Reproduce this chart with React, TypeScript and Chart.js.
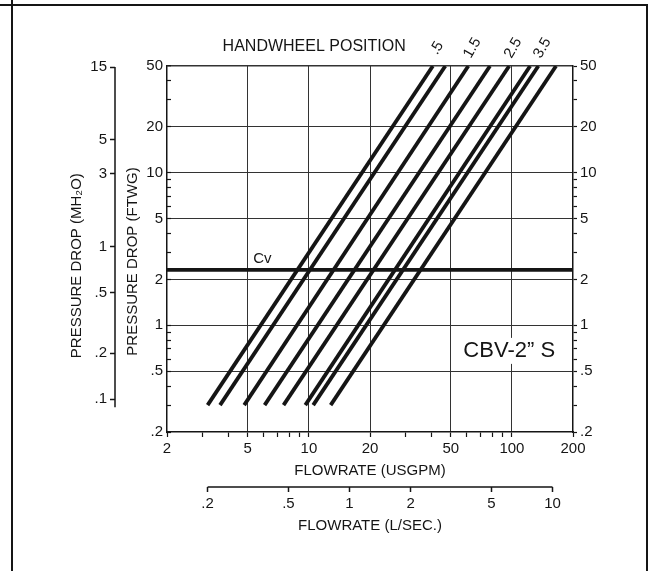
import { useEffect, useRef } from 'react';
import { Chart, registerables } from 'chart.js';

Chart.register(...registerables);

// ---- data ----
const handwheelPositions = ['.5', '1', '1.5', '2', '2.5', '3', '3.5', '4'];
const lowDrop = 0.3; // FTWG where each curve starts
const highDrop = 50; // FTWG where each curve ends
const flowAtLowDrop = [3.17, 3.65, 4.8, 6.05, 7.5, 9.6, 10.5, 12.8]; // USGPM
const flowAtHighDrop = [40.8, 47, 61, 78, 97, 123, 135, 165]; // USGPM
const labeledPositions = ['.5', '1.5', '2.5', '3.5'];
const cvDrop = 2.31; // FTWG (1 psi)

const usgpmTicks = [2, 3, 4, 5, 6, 7, 8, 9, 10, 20, 30, 40, 50, 60, 70, 80, 90, 100, 200];
const usgpmLabels = [2, 5, 10, 20, 50, 100, 200];
const usgpmGrid = [5, 10, 20, 50, 100];
const ftwgTicks = [0.2, 0.3, 0.4, 0.5, 0.6, 0.7, 0.8, 0.9, 1, 2, 3, 4, 5, 6, 7, 8, 9, 10, 20, 30, 40, 50];
const ftwgLabels = [0.2, 0.5, 1, 2, 5, 10, 20, 50];
const ftwgGrid = [0.5, 1, 2, 5, 10, 20, 50];
const mh2oTicks = [0.1, 0.2, 0.5, 1, 3, 5, 15];
const lpsTicks = [0.2, 0.5, 1, 2, 5, 10];

const FT_PER_M = 3.2808;
const USGPM_PER_LPS = 15.85;
const X_MIN = 2, X_MAX = 200, Y_MIN = 0.2, Y_MAX = 50;

const FAMILY = "'Liberation Sans', Arial, sans-serif";
const INK = '#151515';

const has = (arr: number[], v: number) => arr.some((a) => Math.abs(a - v) / a < 1e-6);
const fmt = (v: number) => (v < 1 ? String(v).replace(/^0/, '') : String(v));

const annotations = {
  id: 'annotations',
  beforeDraw(chart: any) {
    const { ctx, width, height } = chart;
    ctx.save();
    ctx.fillStyle = '#ffffff';
    ctx.fillRect(0, 0, width, height);
    ctx.strokeStyle = INK;
    ctx.lineWidth = 2;
    ctx.beginPath();
    ctx.moveTo(0, 5);
    ctx.lineTo(648, 5);
    ctx.moveTo(12, 0);
    ctx.lineTo(12, height);
    ctx.moveTo(647, 4);
    ctx.lineTo(647, height);
    ctx.stroke();
    ctx.restore();
  },
  afterDraw(chart: any) {
    const { ctx } = chart;
    const xs = chart.scales.x;
    const ys = chart.scales.y;
    const ym = chart.scales.yM;
    const x2 = chart.scales.x2;
    ctx.save();
    ctx.strokeStyle = INK;
    ctx.lineWidth = 1.5;
    ctx.beginPath();
    ctx.moveTo(ym.right, ym.getPixelForValue(mh2oTicks[mh2oTicks.length - 1]));
    ctx.lineTo(ym.right, ym.getPixelForValue(mh2oTicks[0]) + 8);
    ctx.moveTo(x2.getPixelForValue(lpsTicks[0]), x2.top);
    ctx.lineTo(x2.getPixelForValue(lpsTicks[lpsTicks.length - 1]), x2.top);
    ctx.stroke();

    ctx.fillStyle = INK;
    // Cv label
    ctx.font = `15px ${FAMILY}`;
    ctx.textAlign = 'center';
    ctx.textBaseline = 'bottom';
    ctx.fillText('Cv', xs.getPixelForValue(5.9), ys.getPixelForValue(cvDrop) - 3);

    // model label on a white patch
    ctx.font = `22px ${FAMILY}`;
    ctx.textBaseline = 'middle';
    const model = 'CBV-2\u201D S';
    const mx = xs.getPixelForValue(97);
    const my = ys.getPixelForValue(0.68);
    const mw = ctx.measureText(model).width;
    ctx.fillStyle = '#ffffff';
    ctx.fillRect(mx - mw / 2 - 4, my - 13, mw + 8, 26);
    ctx.fillStyle = INK;
    ctx.fillText(model, mx, my);

    // handwheel title
    ctx.font = `16px ${FAMILY}`;
    ctx.textAlign = 'right';
    ctx.fillText('HANDWHEEL POSITION', xs.getPixelForValue(30), chart.chartArea.top - 19);

    // handwheel position labels
    ctx.font = `15px ${FAMILY}`;
    ctx.textAlign = 'center';
    labeledPositions.forEach((lab) => {
      const i = handwheelPositions.indexOf(lab);
      const px = xs.getPixelForValue(flowAtHighDrop[i]) + 4;
      const py = ys.getPixelForValue(highDrop) - 18;
      ctx.save();
      ctx.translate(px, py);
      ctx.rotate(-Math.PI / 3);
      ctx.fillText(lab, 0, 0);
      ctx.restore();
    });
    ctx.restore();
  },
};

export default function App() {
  const ref = useRef<HTMLCanvasElement | null>(null);

  useEffect(() => {
    document.body.style.margin = '0';
    const canvas = ref.current;
    if (!canvas) return;

    const lineDatasets = handwheelPositions.map((pos, i) => ({
      label: `Position ${pos}`,
      data: [
        { x: flowAtLowDrop[i], y: lowDrop },
        { x: flowAtHighDrop[i], y: highDrop },
      ],
      showLine: true,
      borderColor: INK,
      borderWidth: 3.8,
      pointRadius: 0,
      xAxisID: 'x',
      yAxisID: 'y',
    }));

    const cvDataset = {
      label: 'Cv',
      data: [
        { x: X_MIN, y: cvDrop },
        { x: X_MAX, y: cvDrop },
      ],
      showLine: true,
      borderColor: INK,
      borderWidth: 3.8,
      pointRadius: 0,
      xAxisID: 'x',
      yAxisID: 'y',
    };

    const tickFont = { size: 15, family: FAMILY };
    const titleFont = { size: 15, family: FAMILY };

    const chart = new Chart(canvas, {
      type: 'scatter',
      data: { datasets: [...lineDatasets, cvDataset] as any },
      plugins: [annotations],
      options: {
        animation: false,
        responsive: false,
        devicePixelRatio: 1,
        events: [],
        layout: { padding: { left: 55, right: 41, top: 66, bottom: 26 } },
        plugins: { legend: { display: false }, tooltip: { enabled: false } },
        scales: {
          x: {
            type: 'logarithmic',
            position: 'bottom',
            weight: 0,
            min: X_MIN,
            max: X_MAX,
            afterBuildTicks: (s: any) => {
              s.ticks = usgpmTicks.map((v) => ({ value: v }));
            },
            afterFit: (s: any) => {
              s.height = 55;
            },
            ticks: {
              autoSkip: false,
              maxRotation: 0,
              minRotation: 0,
              padding: 3,
              color: INK,
              font: tickFont,
              callback: (v: any) => (has(usgpmLabels, Number(v)) ? fmt(Number(v)) : ''),
            },
            grid: {
              drawOnChartArea: true,
              color: (c: any) => (c.tick && has(usgpmGrid, c.tick.value) ? '#333' : 'rgba(0,0,0,0)'),
              lineWidth: 1,
              tickLength: 5,
              tickColor: INK,
              tickWidth: 1.2,
            },
            border: { display: true, color: INK, width: 1.5 },
            title: {
              display: true,
              text: 'FLOWRATE (USGPM)',
              color: INK,
              font: titleFont,
              padding: { top: 0, bottom: 7 },
            },
          },
          x2: {
            type: 'logarithmic',
            position: 'bottom',
            weight: 1,
            min: X_MIN / USGPM_PER_LPS,
            max: X_MAX / USGPM_PER_LPS,
            afterBuildTicks: (s: any) => {
              s.ticks = lpsTicks.map((v) => ({ value: v }));
            },
            afterFit: (s: any) => {
              s.height = 58;
            },
            ticks: {
              autoSkip: false,
              maxRotation: 0,
              minRotation: 0,
              padding: 3,
              color: INK,
              font: tickFont,
              callback: (v: any) => fmt(Number(v)),
            },
            grid: {
              drawOnChartArea: false,
              tickLength: 5,
              tickColor: INK,
              tickWidth: 1.5,
            },
            border: { display: false },
            title: {
              display: true,
              text: 'FLOWRATE (L/SEC.)',
              color: INK,
              font: titleFont,
              padding: { top: 0, bottom: 10 },
            },
          },
          y: {
            type: 'logarithmic',
            position: 'left',
            weight: 0,
            min: Y_MIN,
            max: Y_MAX,
            afterBuildTicks: (s: any) => {
              s.ticks = ftwgTicks.map((v) => ({ value: v }));
            },
            afterFit: (s: any) => {
              s.width = 52;
            },
            ticks: {
              autoSkip: false,
              padding: 8,
              color: INK,
              font: tickFont,
              callback: (v: any) => (has(ftwgLabels, Number(v)) ? fmt(Number(v)) : ''),
            },
            grid: {
              drawOnChartArea: true,
              color: (c: any) => (c.tick && has(ftwgGrid, c.tick.value) ? '#333' : 'rgba(0,0,0,0)'),
              lineWidth: (c: any) => (c.tick && c.tick.value === Y_MAX ? 1.5 : 1),
              tickLength: -4,
              tickColor: INK,
              tickWidth: 1.2,
            },
            border: { display: true, color: INK, width: 1.5 },
            title: {
              display: true,
              text: 'PRESSURE DROP (FTWG)      ',
              color: INK,
              font: titleFont,
              padding: { top: 9, bottom: 0 },
            },
          },
          yM: {
            type: 'logarithmic',
            position: 'left',
            weight: 1,
            min: Y_MIN / FT_PER_M,
            max: Y_MAX / FT_PER_M,
            afterBuildTicks: (s: any) => {
              s.ticks = mh2oTicks.map((v) => ({ value: v }));
            },
            afterFit: (s: any) => {
              s.width = 60;
            },
            ticks: {
              autoSkip: false,
              padding: 3,
              color: INK,
              font: tickFont,
              callback: (v: any) => fmt(Number(v)),
            },
            grid: {
              drawOnChartArea: false,
              tickLength: 5,
              tickColor: INK,
              tickWidth: 1.5,
            },
            border: { display: false },
            title: {
              display: true,
              text: 'PRESSURE DROP (MH\u2082O)        ',
              color: INK,
              font: titleFont,
              padding: { top: 13, bottom: 0 },
            },
          },
          yRight: {
            type: 'logarithmic',
            position: 'right',
            min: Y_MIN,
            max: Y_MAX,
            afterBuildTicks: (s: any) => {
              s.ticks = ftwgTicks.map((v) => ({ value: v }));
            },
            afterFit: (s: any) => {
              s.width = 40;
            },
            ticks: {
              autoSkip: false,
              padding: 3,
              color: INK,
              font: tickFont,
              callback: (v: any) => (has(ftwgLabels, Number(v)) ? fmt(Number(v)) : ''),
            },
            grid: {
              drawOnChartArea: false,
              tickLength: 4,
              tickColor: INK,
              tickWidth: 1.2,
            },
            border: { display: true, color: INK, width: 1.5 },
          },
        },
      } as any,
    });

    return () => {
      chart.destroy();
    };
  }, []);

  return (
    <canvas
      ref={ref}
      width={654}
      height={571}
      style={{ display: 'block', width: '654px', height: '571px' }}
    />
  );
}
